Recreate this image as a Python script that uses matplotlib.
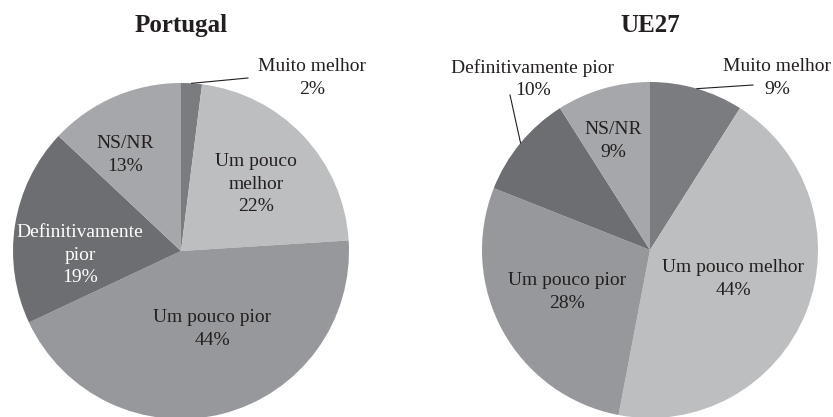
import numpy as np
import matplotlib.pyplot as plt

plt.rcParams['font.family'] = ['Liberation Serif', 'DejaVu Serif']

# data
categories = ['Muito melhor', 'Um pouco melhor', 'Um pouco pior',
              'Definitivamente pior', 'NS/NR']
portugal = [2, 22, 44, 19, 13]
ue27 = [9, 44, 28, 10, 9]
colors = ['#7b7c80', '#bdbec0', '#97989c', '#6d6e72', '#a6a7aa']

# label text as printed on each pie
pt_labels = ['Muito melhor', 'Um pouco\nmelhor', 'Um pouco pior',
             'Definitivamente\npior', 'NS/NR']
ue_labels = ['Muito melhor', 'Um pouco melhor', 'Um pouco pior',
             'Definitivamente pior', 'NS/NR']

# layout (pixels, figure is 833x417)
W, H = 833, 417
R = 168
pt_center = (181, H - 251)
ue_center = (650, H - 250)
# label offsets from pie centre (dx, dy) in pixels, y up
pt_offsets = [(131, 173), (75, 67), (31, -78), (-101, -4), (-56, 96)]
ue_offsets = [(127, 172), (83, -29), (-83, -42), (-117, 171), (-37, 109)]
# leader line outer end offsets (None = no leader)
pt_leaders = [(67, 173), None, None, None, None]
ue_leaders = [(103, 165), None, None, (-140, 155), None]
pt_textcol = ['#231f20', '#231f20', '#231f20', 'white', '#231f20']
ue_textcol = ['#231f20'] * 5

fig = plt.figure(figsize=(W / 100, H / 100), dpi=100)
ax = fig.add_axes([0, 0, 1, 1])
ax.set_xlim(0, W)
ax.set_ylim(0, H)
ax.set_aspect('equal')
ax.axis('off')


def draw_pie(values, labels, center, offsets, leaders, textcols, title):
    wedges, _ = ax.pie(values, colors=colors, startangle=90, counterclock=False,
                       center=center, radius=R, wedgeprops=dict(linewidth=0),
                       frame=True)
    for w, v, lab, off, lead, tc in zip(wedges, values, labels, offsets,
                                        leaders, textcols):
        ax.text(center[0] + off[0], center[1] + off[1], f'{lab}\n{v}%',
                ha='center', va='center', fontsize=14, color=tc,
                linespacing=1.42)
        if lead is not None:
            mid = np.deg2rad((w.theta1 + w.theta2) / 2)
            x0 = center[0] + R * np.cos(mid)
            y0 = center[1] + R * np.sin(mid)
            ax.plot([x0, center[0] + lead[0]], [y0, center[1] + lead[1]],
                    color='#231f20', linewidth=0.8)
    ax.text(center[0], H - 32, title, ha='center', va='baseline',
            fontsize=18, fontweight='bold', color='#231f20')


draw_pie(portugal, pt_labels, pt_center, pt_offsets, pt_leaders, pt_textcol,
         'Portugal')
draw_pie(ue27, ue_labels, ue_center, ue_offsets, ue_leaders, ue_textcol,
         'UE27')

ax.set_xlim(0, W)
ax.set_ylim(0, H)
ax.axis('off')
fig.savefig('out.png', dpi=100)
